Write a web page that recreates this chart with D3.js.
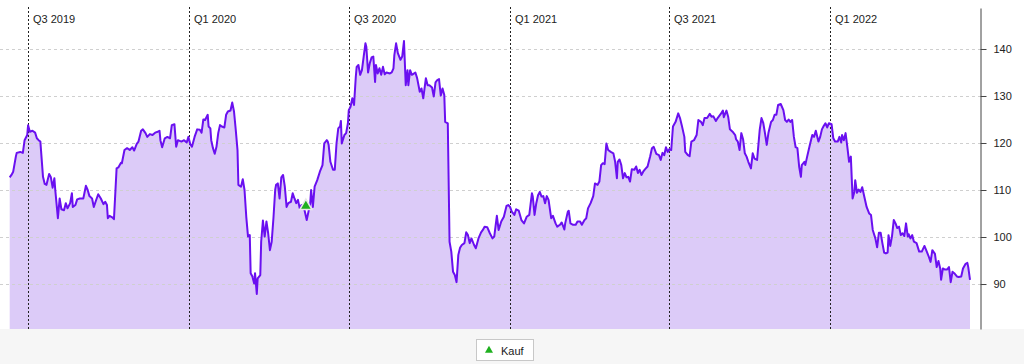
<!DOCTYPE html>
<html>
<head>
<meta charset="utf-8">
<script src="https://cdn.jsdelivr.net/npm/d3@7"></script>
<style>
  body { margin: 0; background: #fff; }
  svg { display: block; font-family: "Liberation Sans", Arial, sans-serif; }
</style>
</head>
<body>
<script>
// ---- DATA ----
// days after 2019-07-01 and price at that day
const baseDate = "2019-07-01";
const dayOffsets = [
-21,-19,-17,-14,-13,-9,-6,-4,-1,0,2,5,8,10,12,14,17,19,21,24,26,28,30,31,34,36,38,41,43,45,48,50,51,54,56,59,63,66,68,70,73,75,77,80,83,86,88,90,91,93,96,98,101,103,106,107,110,113,116,119,121,124,126,129,131,134,136,139,142,145,148,150,151,153,156,159,
162,164,167,169,171,175,178,181,183,185,187,190,193,196,198,200,202,205,206,208,209,211,213,215,217,219,221,224,226,228,231,233,235,237,239,240,243,245,247,249,251,253,254,256,258,259,261,262,265,266,268,270,272,274,276,278,280,282,283,285,287,289,291,293,295,297,300,302,304,306,308,310,312,315,318,320,322,323,325,327,330,333,336,338,341,342,
343,345,348,350,352,354,356,357,358,361,363,365,366,368,370,372,374,375,377,379,381,383,385,386,388,390,392,394,396,397,399,401,403,405,407,409,413,415,417,418,420,422,425,427,429,431,433,434,436,438,439,442,444,447,449,451,454,456,458,461,463,465,467,469,471,473,475,476,479,481,483,485,487,489,491,493,495,498,500,502,504,506,509,511,514,517,519,521,
524,527,530,532,535,537,540,543,546,548,550,552,555,557,560,563,566,569,572,575,576,578,580,582,584,586,588,590,592,594,597,599,602,604,607,609,612,613,616,617,619,622,625,627,630,632,635,637,639,642,645,647,650,652,654,656,658,660,662,665,668,670,672,673,675,677,679,681,683,685,687,689,692,694,696,698,700,702,704,
707,710,712,714,717,720,722,724,726,728,730,732,734,736,739,742,744,746,749,750,753,755,757,760,763,765,768,770,772,775,778,780,782,785,787,791,793,794,797,799,801,804,807,808,810,812,814,816,818,820,822,825,827,829,832,835,837,839,841,843,845,848,850,852,854,856,859,862,864,866,868,870,872,874,876,878,880,882,883,886,887,
889,892,895,897,899,902,904,906,908,910,912,914,917,919,921,924,926,928,929,931,933,935,937,939,941,943,944,946,948,950,952,954,957,960,962,964,967,969,971,973,975,977,979,981,982,984,986,988,990,992,994,996,998,1000,1002,1004,1005,1007,1009,1011,1014,1017,1020,1023,1025,1028,1030,1032,1035,1037,1039,1041,1042,1044,1046,1049,1051,1053,1055,1057,1060,1062,1065,1067,1070,1072,1073,1075
];
const prices = [
112.7,113.2,113.9,117.1,117.9,118.1,117.9,120.6,121.7,123.8,122.4,122.6,122.2,121.0,120.6,120.3,112.8,111.3,111.1,113.4,112.7,110.5,112.5,110.0,104.0,108.2,105.9,105.7,107.2,106.1,107.2,109.3,106.4,106.8,108.0,108.2,108.2,110.9,110.0,108.7,108.2,106.4,107.5,109.1,108.2,107.0,107.5,106.8,104.0,104.5,104.2,103.8,114.6,114.8,115.8,115.7,118.5,118.9,118.5,119.1,118.4,119.8,120.3,122.6,122.9,122.1,121.3,121.9,121.7,122.2,122.4,122.6,120.6,119.1,121.0,121.3,
121.0,123.8,124.0,119.2,120.6,120.3,120.6,120.1,121.3,119.8,119.2,121.3,122.9,122.8,122.2,125.0,124.9,126.0,123.5,123.1,120.6,118.9,117.7,119.2,122.1,123.8,123.5,123.3,126.0,126.7,126.9,128.6,126.7,122.8,118.5,111.1,110.7,112.3,110.0,104.3,100.1,100.4,92.3,91.6,90.1,92.3,87.9,91.2,91.9,99.0,103.5,100.1,103.3,100.8,97.2,99.0,104.0,110.0,111.1,111.4,108.2,112.7,113.2,110.7,106.4,107.2,107.5,109.3,108.2,107.2,107.9,106.1,106.8,106.1,103.6,105.4,107.2,110.0,106.4,110.7,112.1,113.9,115.3,119.9,120.6,120.3,
119.6,116.0,114.3,114.3,119.9,123.1,123.5,124.7,119.9,121.7,122.1,124.2,127.0,127.7,129.5,128.1,134.1,136.2,136.6,134.5,135.5,138.4,141.2,140.5,135.0,137.0,138.2,138.4,133.0,136.6,134.8,135.9,134.5,136.2,134.6,135.0,134.8,135.0,135.9,138.7,141.2,139.1,137.7,138.4,141.7,132.3,135.5,132.3,135.5,134.5,134.6,135.0,133.8,130.9,131.6,129.5,133.8,132.3,132.3,131.8,129.9,132.9,133.4,133.6,130.1,131.6,130.2,124.5,124.2,99.0,96.9,92.6,91.9,90.4,96.2,97.7,98.3,98.7,101.0,100.4,98.7,99.7,98.3,97.6,99.7,101.0,101.5,102.2,
102.1,100.8,99.7,100.1,104.5,101.5,103.3,104.3,106.6,106.8,106.4,105.4,104.7,105.9,105.6,103.6,102.9,104.3,104.7,109.3,108.6,104.7,107.2,108.9,109.6,108.6,108.7,107.2,108.7,107.9,104.0,104.5,102.9,102.2,102.6,103.1,101.6,102.9,105.4,105.6,102.9,102.6,102.6,103.3,103.3,102.6,103.6,104.0,106.1,107.2,108.7,111.4,111.1,111.8,115.3,115.7,115.5,119.9,118.5,118.1,117.8,116.0,112.5,116.0,116.5,115.3,112.5,113.6,112.7,112.8,111.8,114.4,114.3,115.0,113.6,114.3,113.2,113.9,114.4,
115.0,117.2,118.9,119.2,117.7,117.4,116.4,117.9,117.4,119.1,118.1,118.7,118.5,123.5,124.5,126.3,125.3,123.8,121.3,118.1,117.4,117.2,120.3,120.6,121.7,124.9,124.5,123.8,125.3,125.3,126.2,125.6,125.7,124.7,125.3,126.3,126.9,125.5,126.9,125.6,122.9,122.4,121.7,120.8,120.3,118.5,122.1,120.8,117.8,117.1,116.0,114.6,117.8,116.7,116.4,122.8,125.3,124.3,122.1,119.6,122.2,124.5,124.9,126.0,126.0,128.1,128.3,127.0,124.9,124.5,125.0,124.5,124.9,121.3,119.1,118.9,115.0,112.8,115.3,116.0,115.3,
117.0,119.4,121.7,121.3,122.6,120.3,121.3,122.9,123.6,124.2,123.3,124.2,124.0,121.0,120.3,120.3,121.3,120.1,121.7,120.6,122.1,119.2,116.0,117.1,108.2,109.6,112.1,109.4,110.1,109.6,110.6,108.9,106.4,105.0,104.7,101.5,99.7,97.8,100.9,100.9,98.7,96.7,96.5,96.7,100.4,98.1,100.2,103.6,102.9,101.9,102.2,100.4,100.8,100.2,102.9,100.1,100.6,99.7,100.4,99.0,98.7,96.9,96.9,98.1,97.2,95.8,94.7,97.2,96.4,93.6,94.9,93.3,90.9,93.3,93.1,93.1,93.6,90.4,92.6,92.3,91.6,91.5,91.6,93.3,94.3,94.5,93.6,90.9
];
const quarterLabels = ["Q3 2019", "Q1 2020", "Q3 2020", "Q1 2021", "Q3 2021", "Q1 2022"];
const quarterDates = ["2019-07-01", "2020-01-01", "2020-07-01", "2021-01-01", "2021-07-01", "2022-01-01"];
const yTicks = [90, 100, 110, 120, 130, 140];
const buyOffsets = [317];
const buyPrices = [106.6];
const legendLabel = "Kauf";

// ---- CHART ----
const W = 1024, H = 364;
const parse = d3.utcParse("%Y-%m-%d");
const base = parse(baseDate);
const toDate = d => d3.utcDay.offset(base, d);
const data = dayOffsets.map((d, i) => ({ date: toDate(d), v: prices[i] }));

const plotLeft = 9.7, plotRight = 970, axisX = 980;
const plotTop = 8, plotBottom = 329;

const x = d3.scaleUtc()
  .domain(d3.extent(data, d => d.date))
  .range([plotLeft, plotRight]);
const y = d3.scaleLinear()
  .domain([80.43, 148.72])
  .range([plotBottom, plotTop]);

const svg = d3.select("body").append("svg").attr("width", W).attr("height", H);

// bottom band
svg.append("rect").attr("x", 0).attr("y", plotBottom).attr("width", W).attr("height", H - plotBottom)
  .attr("fill", "#f6f6f6");

// area
const area = d3.area().x(d => x(d.date)).y0(plotBottom).y1(d => y(d.v));
svg.append("path").datum(data).attr("d", area).attr("fill", "#dccbf8");

// horizontal grid
svg.append("g").selectAll("line").data(yTicks).join("line")
  .attr("x1", 0).attr("x2", axisX)
  .attr("y1", d => Math.round(y(d)) + 0.5).attr("y2", d => Math.round(y(d)) + 0.5)
  .attr("stroke", "#cfcfcf").attr("stroke-width", 1).attr("stroke-dasharray", "3,3");

// vertical quarter lines + labels
const qg = svg.append("g");
quarterDates.forEach((q, i) => {
  const xx = Math.round(x(parse(q))) + 0.5;
  qg.append("line").attr("x1", xx).attr("x2", xx).attr("y1", 7).attr("y2", plotBottom)
    .attr("stroke", "#222").attr("stroke-width", 1).attr("stroke-dasharray", "2,2");
  qg.append("text").attr("x", xx + 4.5).attr("y", 23).text(quarterLabels[i])
    .attr("font-size", 11).attr("fill", "#222");
});

// line
const line = d3.line().x(d => x(d.date)).y(d => y(d.v));
svg.append("path").datum(data).attr("d", line)
  .attr("fill", "none").attr("stroke", "#6a10f0").attr("stroke-width", 2)
  .attr("stroke-linejoin", "round");

// buy markers
const tri = d3.symbol().type(d3.symbolTriangle);
svg.append("g").selectAll("path").data(buyOffsets).join("path")
  .attr("transform", (d, i) => `translate(${x(toDate(d))},${y(buyPrices[i])})`)
  .attr("d", tri.size(62)())
  .attr("fill", "#1fb01f").attr("stroke", "#e8e8e8").attr("stroke-width", 1.6);

// right axis
const axis = d3.axisRight(y).tickValues(yTicks).tickSize(6).tickSizeOuter(0).tickPadding(7);
const ag = svg.append("g").attr("transform", `translate(${axisX + 0.5},0)`).call(axis);
ag.select(".domain").attr("stroke", "#444");
ag.selectAll(".tick line").attr("stroke", "#444");
ag.selectAll(".tick text").attr("font-size", 11).attr("fill", "#222")
  .attr("font-family", "Liberation Sans, Arial, sans-serif");

// legend
const lg = svg.append("g");
lg.append("rect").attr("x", 476.5).attr("y", 339.5).attr("width", 57).attr("height", 21)
  .attr("fill", "#fff").attr("stroke", "#c8c8c8");
lg.append("path").attr("transform", "translate(489,350.5)")
  .attr("d", d3.symbol().type(d3.symbolTriangle).size(28)())
  .attr("fill", "#1fb01f");
lg.append("text").attr("x", 501).attr("y", 354.5).text(legendLabel)
  .attr("font-size", 11).attr("fill", "#222");
</script>
</body>
</html>
